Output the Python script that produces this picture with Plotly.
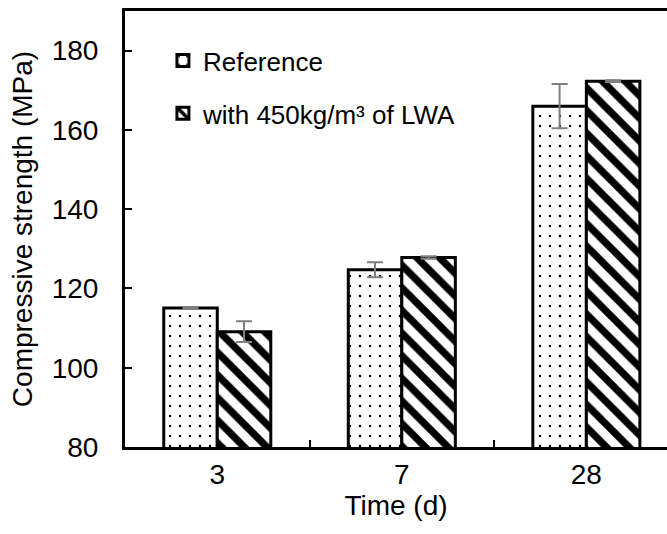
import plotly.graph_objects as go

categories = ["3", "7", "28"]
ref_values = [115.1, 124.7, 166.0]
ref_errors = [0.2, 1.9, 5.6]
lwa_values = [109.1, 127.8, 172.3]
lwa_errors = [2.6, 0.3, 0.2]
series_names = ["Reference", "with 450kg/m³ of LWA"]
y_ticks = [80, 100, 120, 140, 160, 180]

FONT = "Liberation Sans, Arial, sans-serif"

fig = go.Figure()
fig.add_trace(go.Bar(
    x=categories, y=ref_values, name=series_names[0], legendgroup="a",
    marker=dict(color="white", line=dict(color="black", width=3),
                pattern=dict(shape=".", fgcolor="black", bgcolor="white", fgopacity=1,
                             size=10, solidity=0.05, fillmode="replace")),
    error_y=dict(type="data", array=ref_errors, color="#7f7f7f", thickness=2, width=8),
))
fig.add_trace(go.Bar(
    x=categories, y=lwa_values, name=series_names[1], legendgroup="b",
    marker=dict(color="white", line=dict(color="black", width=3),
                pattern=dict(shape="\\", fgcolor="black", bgcolor="white", fgopacity=1,
                             size=16, solidity=0.45, fillmode="replace")),
    error_y=dict(type="data", array=lwa_errors, color="#7f7f7f", thickness=2, width=8),
))

fig.update_layout(
    width=667, height=534,
    margin=dict(l=125, r=0, t=11, b=87),
    paper_bgcolor="white", plot_bgcolor="white",
    barmode="group", bargap=0.42, bargroupgap=0,
    font=dict(family=FONT, size=26, color="black"),
    legend=dict(x=0.07, y=0.94, xanchor="left", yanchor="top",
                bgcolor="rgba(0,0,0,0)", font=dict(size=26),
                tracegroupgap=16, traceorder="grouped"),
    showlegend=True,
)
fig.update_xaxes(
    type="category", range=[-0.5, 2.437],
    showline=True, linecolor="black", linewidth=3, mirror=True,
    ticks="inside", tickson="boundaries", ticklen=7, tickwidth=2, tickcolor="black",
    showgrid=False, zeroline=False,
    title=dict(text="Time (d)", font=dict(size=28), standoff=6),
    tickfont=dict(size=28),
)
fig.update_yaxes(
    range=[80, 190], tickvals=y_ticks,
    showline=True, linecolor="black", linewidth=3, mirror=False,
    ticks="inside", ticklen=7, tickwidth=2, tickcolor="black",
    showgrid=False, zeroline=False, ticklabelstandoff=18,
    title=dict(text="Compressive strength (MPa)", font=dict(size=28), standoff=11),
    tickfont=dict(size=28),
)

fig.write_html("out.html")
